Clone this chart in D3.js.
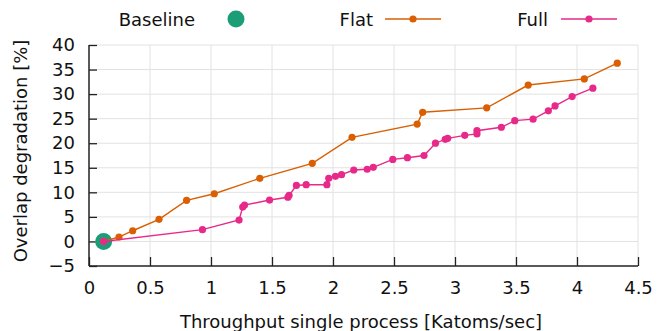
<!DOCTYPE html>
<html>
<head>
<meta charset="utf-8">
<script src="https://cdn.jsdelivr.net/npm/d3@7"></script>
<style>
  body { margin: 0; background: #fff; }
  text { font-family: "DejaVu Sans", sans-serif; }
</style>
</head>
<body>
<script>
const width = 657;
const height = 331;
const fs = 18;

// data
const baseline = [[0.12, 0]];
const flat = [
  [0.12, 0], [0.246, 0.9], [0.358, 2.18], [0.574, 4.5], [0.80, 8.37],
  [1.027, 9.71], [1.40, 12.85], [1.83, 15.9], [2.156, 21.2], [2.69, 23.9],
  [2.735, 26.3], [3.26, 27.2], [3.60, 31.85], [4.06, 33.1], [4.33, 36.3]
];
const full = [
  [0.12, 0], [0.93, 2.4], [1.23, 4.36], [1.26, 7.0], [1.275, 7.4],
  [1.48, 8.43], [1.63, 9.0], [1.64, 9.4], [1.70, 11.4], [1.78, 11.55],
  [1.95, 11.55], [1.965, 12.85], [2.02, 13.25], [2.07, 13.6], [2.17, 14.55],
  [2.28, 14.7], [2.33, 15.1], [2.49, 16.7], [2.61, 17.05], [2.746, 17.5],
  [2.84, 20.0], [2.92, 20.8], [2.94, 21.0], [3.08, 21.6], [3.18, 21.9],
  [3.18, 22.55], [3.38, 23.25], [3.49, 24.6], [3.64, 24.9], [3.765, 26.6],
  [3.82, 27.6], [3.96, 29.5], [4.13, 31.2]
];
const xTicks = [0, 0.5, 1, 1.5, 2, 2.5, 3, 3.5, 4, 4.5];
const yTicks = [-5, 0, 5, 10, 15, 20, 25, 30, 35, 40];

const colors = { Baseline: "#1b9e77", Flat: "#d95f02", Full: "#e7298a" };

const svg = d3.select('body')
  .append('svg')
  .attr('width', width)
  .attr('height', height);

const x = d3.scaleLinear().domain([0, 4.5]).range([89, 638]);
const y = d3.scaleLinear().domain([-5, 40]).range([266, 45]);

// grid
const grid = svg.append('g').attr('stroke', '#e2e2e2').attr('stroke-width', 1);
grid.selectAll('.gx').data(xTicks.slice(1)).join('line')
  .attr('x1', d => x(d)).attr('x2', d => x(d))
  .attr('y1', y(-5)).attr('y2', y(40));
grid.selectAll('.gy').data(yTicks.slice(1)).join('line')
  .attr('x1', x(0)).attr('x2', x(4.5))
  .attr('y1', d => y(d)).attr('y2', d => y(d));

// axes
const xAxis = svg.append('g')
  .attr('transform', `translate(0,${y(-5)})`)
  .call(d3.axisBottom(x).tickValues(xTicks).tickSize(-9).tickPadding(15).tickFormat(d3.format('')));
const yAxis = svg.append('g')
  .attr('transform', `translate(${x(0)},0)`)
  .call(d3.axisLeft(y).tickValues(yTicks).tickSize(-8).tickPadding(14));

[xAxis, yAxis].forEach(a => {
  a.select('.domain').attr('stroke', '#222').attr('stroke-width', 1.5);
  a.selectAll('.tick line').attr('stroke', '#222').attr('stroke-width', 1.3);
  a.selectAll('.tick text').attr('font-size', fs).attr('fill', '#111')
    .style('font-family', '"DejaVu Sans", sans-serif');
});
xAxis.select('.domain').attr('d', `M${x(0)},0H${x(4.5)}`);
yAxis.select('.domain').attr('d', `M0,${y(-5)}V${y(40)}`);

// axis titles
svg.append('text')
  .attr('x', 361).attr('y', 328)
  .attr('text-anchor', 'middle').attr('font-size', fs).attr('fill', '#111')
  .text('Throughput single process [Katoms/sec]');
svg.append('text')
  .attr('transform', 'translate(27,151) rotate(-90)')
  .attr('text-anchor', 'middle').attr('font-size', fs).attr('fill', '#111')
  .text('Overlap degradation [%]');

// series
const line = d3.line().x(d => x(d[0])).y(d => y(d[1]));

const drawSeries = (data, color) => {
  svg.append('path')
    .datum(data)
    .attr('fill', 'none')
    .attr('stroke', color)
    .attr('stroke-width', 1.4)
    .attr('d', line);
  svg.append('g').selectAll('circle').data(data).join('circle')
    .attr('cx', d => x(d[0])).attr('cy', d => y(d[1]))
    .attr('r', 3.6).attr('fill', color);
};

svg.append('g').selectAll('circle').data(baseline).join('circle')
  .attr('cx', d => x(d[0])).attr('cy', d => y(d[1]))
  .attr('r', 8.5).attr('fill', colors.Baseline);

drawSeries(flat, colors.Flat);
drawSeries(full, colors.Full);

// legend
const legend = svg.append('g').attr('font-size', fs).attr('fill', '#111');
legend.append('text').attr('x', 195).attr('y', 26).attr('text-anchor', 'end').text('Baseline');
legend.append('circle').attr('cx', 236).attr('cy', 19).attr('r', 8.5).attr('fill', colors.Baseline);

[['Flat', 373, 385], ['Full', 548, 561]].forEach(([name, tx, lx]) => {
  legend.append('text').attr('x', tx).attr('y', 26).attr('text-anchor', 'end').text(name);
  legend.append('line').attr('x1', lx).attr('x2', lx + 56).attr('y1', 19).attr('y2', 19)
    .attr('stroke', colors[name]).attr('stroke-width', 1.4);
  legend.append('circle').attr('cx', lx + 28).attr('cy', 19).attr('r', 3.6).attr('fill', colors[name]);
});
</script>
</body>
</html>
